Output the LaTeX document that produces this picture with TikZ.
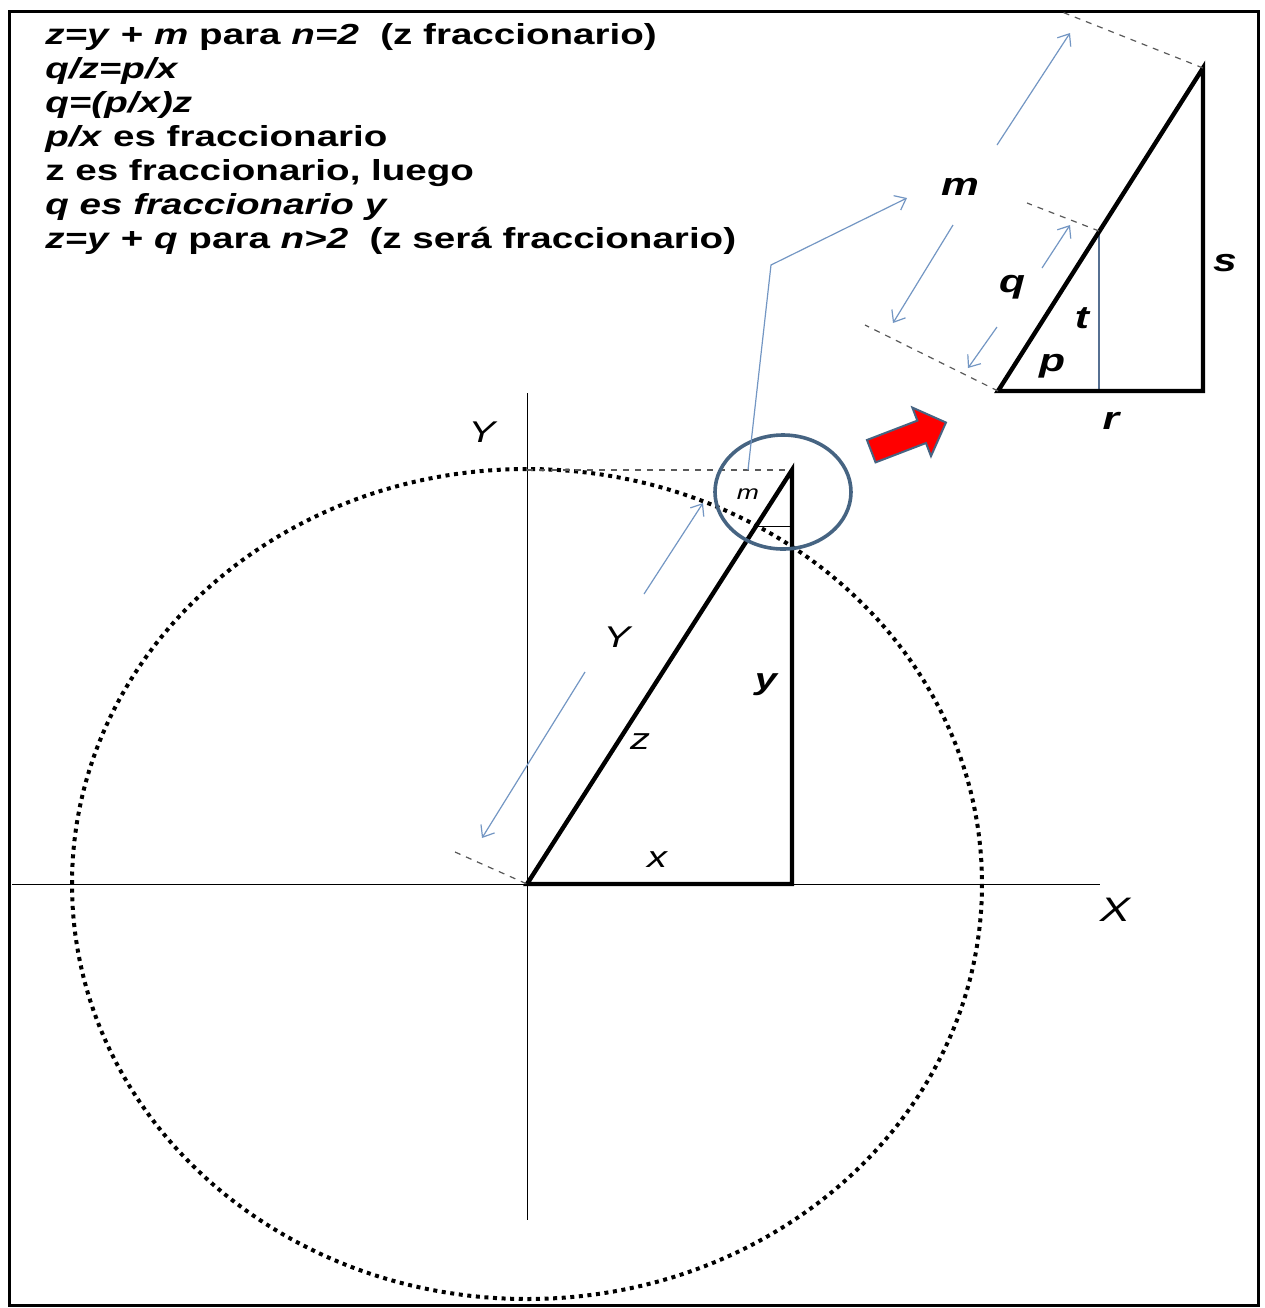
\documentclass[tikz,border=0pt]{standalone}
\usepackage{fontspec}
\setmainfont{Liberation Sans}[FakeStretch=1.33]
\usetikzlibrary{arrows.meta,shapes.arrows}
\definecolor{dimblue}{RGB}{115,150,195}
\definecolor{ringblue}{RGB}{70,100,130}

\begin{document}
\begin{tikzpicture}[x=0.5pt, y=-0.5pt, every node/.style={inner sep=1pt, font=\itshape\fontsize{15}{17}\selectfont}, lbl/.style={font=\bfseries\itshape\fontsize{16}{18}\selectfont}, >={Straight Barb[length=5pt,width=8pt]}, dim/.style={draw=dimblue, line width=0.6pt, ->}, ext/.style={draw=black!65, dashed, line width=0.6pt}]
	\useasboundingbox (0,0) rectangle (1265,1308);
	\draw[line width=1.5pt] (9,11) rectangle (1258,1305);
	\node[anchor=north west, align=left, font=\bfseries\fontsize{14.5}{17}\selectfont] (txt) at (43,21) {\textit{z=y} + \textit{m} para \textit{n=2}\ \ (z fraccionario)\\ \textit{q/z=p/x}\\ \textit{q=(p/x)z}\\ \textit{p/x} es fraccionario\\ z es fraccionario, luego\\ \textit{q es fraccionario y}\\ \textit{z=y} + \textit{q} para \textit{n>2}\ \ (z será fraccionario)};
	\coordinate (O) at (527,884); \coordinate (P) at (792,884); \coordinate (Q) at (792,470); \coordinate (Yt) at (527,470);
	\coordinate (xl) at (12,884); \coordinate (xr) at (1100,884); \coordinate (yt) at (527,393); \coordinate (yb) at (527,1220);
	\draw[line width=0.5pt] (xl) -- (xr) (yt) -- (yb);
	\draw[line width=2pt, dash pattern=on 2pt off 2.3pt] (O) ellipse [x radius=455, y radius=415];
	\draw[ext] (Yt) -- (Q);
	\draw[line width=2.2pt, line join=miter] (O) -- (P) -- (Q) -- cycle;
	\coordinate (h1) at (756,526); \coordinate (h2) at (792,526);
	\draw[line width=0.5pt] (h1) -- (h2);
	\draw[ringblue, line width=1.8pt] (783,492) ellipse [x radius=68, y radius=57];
	\coordinate (c1) at (748,470); \coordinate (c2) at (771,265); \coordinate (c3) at (907,198);
	\draw[dim] (c1) -- (c2) -- (c3);
	\coordinate (y1) at (644,594); \coordinate (y2) at (703,503); \coordinate (y3) at (585,672); \coordinate (y4) at (482,838); \coordinate (e1) at (455,852);
	\draw[dim] (y1) -- (y2); \draw[dim] (y3) -- (y4);
	\draw[ext] (e1) -- (O);
	\node (Ylab) at (482,432) {Y};
	\node[font=\itshape\fontsize{17}{19}\selectfont] (Xlab) at (1115,910) {X};
	\node (xlab) at (657,860) {x};
	\node[lbl, font=\bfseries\itshape\fontsize{15}{17}\selectfont] (ylab) at (766,685) {y};
	\node (zlab) at (640,742) {z};
	\node (Ydim) at (617,637) {Y};
	\node[font=\itshape\fontsize{10}{12}\selectfont] (mlab) at (748,494) {m};
	\node[single arrow, fill=red, draw=ringblue, line width=1pt, minimum height=40pt, minimum width=25pt, single arrow head extend=7pt, inner xsep=0pt, inner ysep=5.5pt, rotate=21] (redarr) at (903,439) {};
	\coordinate (A) at (998,391); \coordinate (B) at (1203,391); \coordinate (C) at (1203,68); \coordinate (D) at (1099,231); \coordinate (E) at (1099,391);
	\draw[dimblue!75!black, line width=0.8pt] (D) -- (E);
	\draw[line width=2.2pt, line join=miter] (A) -- (B) -- (C) -- cycle;
	\coordinate (f1) at (1062,12); \coordinate (f2) at (1027,203); \coordinate (f3) at (865,325);
	\draw[ext] (C) -- (f1); \draw[ext] (D) -- (f2); \draw[ext] (A) -- (f3);
	\coordinate (m1) at (997,145); \coordinate (m2) at (1070,33); \coordinate (m3) at (953,225); \coordinate (m4) at (893,323);
	\draw[dim] (m1) -- (m2); \draw[dim] (m3) -- (m4);
	\coordinate (q1) at (1042,268); \coordinate (q2) at (1070,225); \coordinate (q3) at (997,327); \coordinate (q4) at (968,368);
	\draw[dim] (q1) -- (q2); \draw[dim] (q3) -- (q4);
	\node[lbl] (mbig) at (960,187) {m};
	\node[lbl] (qlab) at (1012,287) {q};
	\node[lbl] (tlab) at (1082,318) {t};
	\node[lbl] (plab) at (1052,366) {p};
	\node[lbl] (rlab) at (1111,421) {r};
	\node[lbl] (slab) at (1225,263) {s};
\end{tikzpicture}
\end{document}
